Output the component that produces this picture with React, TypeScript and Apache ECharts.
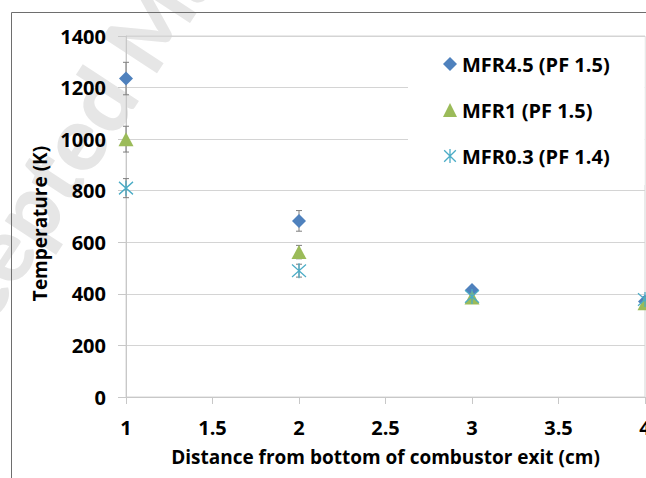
import React, { useEffect, useRef } from "react";
import * as echarts from "echarts";

// Distance from bottom of combustor exit (cm)
const distances = [1, 2, 3, 4];

// Mean temperatures (K) and error-bar half widths for each mass flow ratio
const mfr45 = [1235, 683, 415, 370];
const mfr45Err = [63, 40, 10, 10];
const mfr1 = [1000, 562, 386, 364];
const mfr1Err = [50, 26, 10, 10];
const mfr03 = [810, 490, 390, 378];
const mfr03Err = [37, 25, 10, 10];

const seriesNames = ["MFR4.5 (PF 1.5)", "MFR1 (PF 1.5)", "MFR0.3 (PF 1.4)"];
const colors = ["#4F81BD", "#9BBB59", "#4BACC6"];

const yTicks = { min: 0, max: 1400, interval: 200 };
const xTicks = { min: 1, max: 4, interval: 0.5 };

const FONT = "'Open Sans', Lato, sans-serif";
const ASTERISK = "path://M0,0L20,20M20,0L0,20M10,-2L10,22";

const pairs = (ys: number[]) => distances.map((x, i) => [x, ys[i]]);
const errTriples = (ys: number[], es: number[]) =>
  distances.map((x, i) => [x, ys[i], es[i]]);

const errorBarSeries = (name: string, ys: number[], es: number[]) => ({
  type: "custom",
  name,
  z: 1,
  clip: false,
  data: errTriples(ys, es),
  renderItem: (_params: any, api: any) => {
    const x = api.value(0);
    const y = api.value(1);
    const e = api.value(2);
    const top = api.coord([x, y + e]);
    const bot = api.coord([x, y - e]);
    const cap = 3;
    const style = { stroke: "#7f7f7f", lineWidth: 1 };
    return {
      type: "group",
      children: [
        { type: "line", shape: { x1: top[0], y1: top[1], x2: bot[0], y2: bot[1] }, style },
        { type: "line", shape: { x1: top[0] - cap, y1: top[1], x2: top[0] + cap, y2: top[1] }, style },
        { type: "line", shape: { x1: bot[0] - cap, y1: bot[1], x2: bot[0] + cap, y2: bot[1] }, style },
      ],
    };
  },
});

export default function App() {
  const ref = useRef<HTMLDivElement>(null);

  useEffect(() => {
    if (!ref.current) return;
    const chart = echarts.init(ref.current, null, { renderer: "svg" });

    const labelStyle = { fontFamily: FONT, fontWeight: "bold", fontSize: 20, color: "#000" };

    chart.setOption({
      animation: false,
      backgroundColor: "#fff",
      grid: {
        left: 126,
        right: 1,
        top: 36,
        bottom: 81,
        outerBoundsMode: "none",
        containLabel: false,
        show: true,
        borderColor: "#d4d4d4",
        borderWidth: 1,
      },
      xAxis: {
        type: "value",
        min: xTicks.min,
        max: xTicks.max,
        interval: xTicks.interval,
        name: "Distance from bottom of combustor exit (cm)",
        nameLocation: "middle",
        nameGap: 50,
        nameTextStyle: { ...labelStyle, fontSize: 19 },
        axisLine: { show: true, lineStyle: { color: "#c8c8c8" } },
        axisTick: { show: true, length: 7, lineStyle: { color: "#c8c8c8" } },
        axisLabel: { ...labelStyle, margin: 20, showMaxLabel: true },
        splitLine: { show: false },
      },
      yAxis: {
        type: "value",
        min: yTicks.min,
        max: yTicks.max,
        interval: yTicks.interval,
        name: "Temperature (K)",
        nameLocation: "middle",
        nameGap: 71,
        nameTextStyle: { ...labelStyle, fontSize: 19, padding: [0, 14, 0, 0] },
        axisLine: { show: true, lineStyle: { color: "#c8c8c8" } },
        axisTick: { show: true, length: 8, lineStyle: { color: "#c8c8c8" } },
        axisLabel: { ...labelStyle, margin: 20, formatter: (v: number) => String(v) },
        splitLine: { show: true, lineStyle: { color: "#d4d4d4" } },
      },
      legend: {
        orient: "vertical",
        left: 408,
        top: 37,
        backgroundColor: "#fff",
        padding: [16, 35, 18, 35],
        itemGap: 24,
        itemWidth: 14,
        itemHeight: 14,
        textStyle: { ...labelStyle, lineHeight: 22 },
        data: [
          { name: seriesNames[0], icon: "diamond" },
          { name: seriesNames[1], icon: "triangle" },
          {
            name: seriesNames[2],
            icon: ASTERISK,
            itemStyle: { color: "rgba(0,0,0,0)", borderColor: colors[2], borderWidth: 1.3 },
          },
        ],
      },
      graphic: [
        {
          type: "text",
          x: -96,
          y: 395,
          rotation: 0.99,
          z: -10,
          silent: true,
          style: {
            text: "Accepted Manuscript",
            font: `900 90px Lato, sans-serif`,
            fill: "#e6e6e6",
            textAlign: "left",
            textVerticalAlign: "middle",
          },
        },
        {
          type: "polyline",
          z: 10,
          shape: { points: [[11.5, 478], [11.5, 12.5], [646, 12.5]] },
          style: { stroke: "#6e6e6e", lineWidth: 1, fill: "none" },
        },
      ],
      series: [
        errorBarSeries("err-a", mfr45, mfr45Err),
        errorBarSeries("err-b", mfr1, mfr1Err),
        errorBarSeries("err-c", mfr03, mfr03Err),
        {
          type: "scatter",
          name: seriesNames[0],
          symbol: "diamond",
          symbolSize: [14, 14],
          itemStyle: { color: colors[0], opacity: 1 },
          data: pairs(mfr45),
          clip: false,
          z: 3,
        },
        {
          type: "scatter",
          name: seriesNames[1],
          symbol: "triangle",
          symbolSize: [15, 14],
          itemStyle: { color: colors[1], opacity: 1 },
          data: pairs(mfr1),
          clip: false,
          z: 4,
        },
        {
          type: "scatter",
          name: seriesNames[2],
          symbol: ASTERISK,
          symbolSize: [14, 15],
          itemStyle: {
            color: "rgba(0,0,0,0)",
            borderColor: colors[2],
            borderWidth: 1.3,
            opacity: 1,
          },
          data: pairs(mfr03),
          clip: false,
          z: 5,
        },
      ],
    });

    return () => chart.dispose();
  }, []);

  return (
    <div
      ref={ref}
      style={{ position: "absolute", left: 0, top: 0, width: 646, height: 478 }}
    />
  );
}
